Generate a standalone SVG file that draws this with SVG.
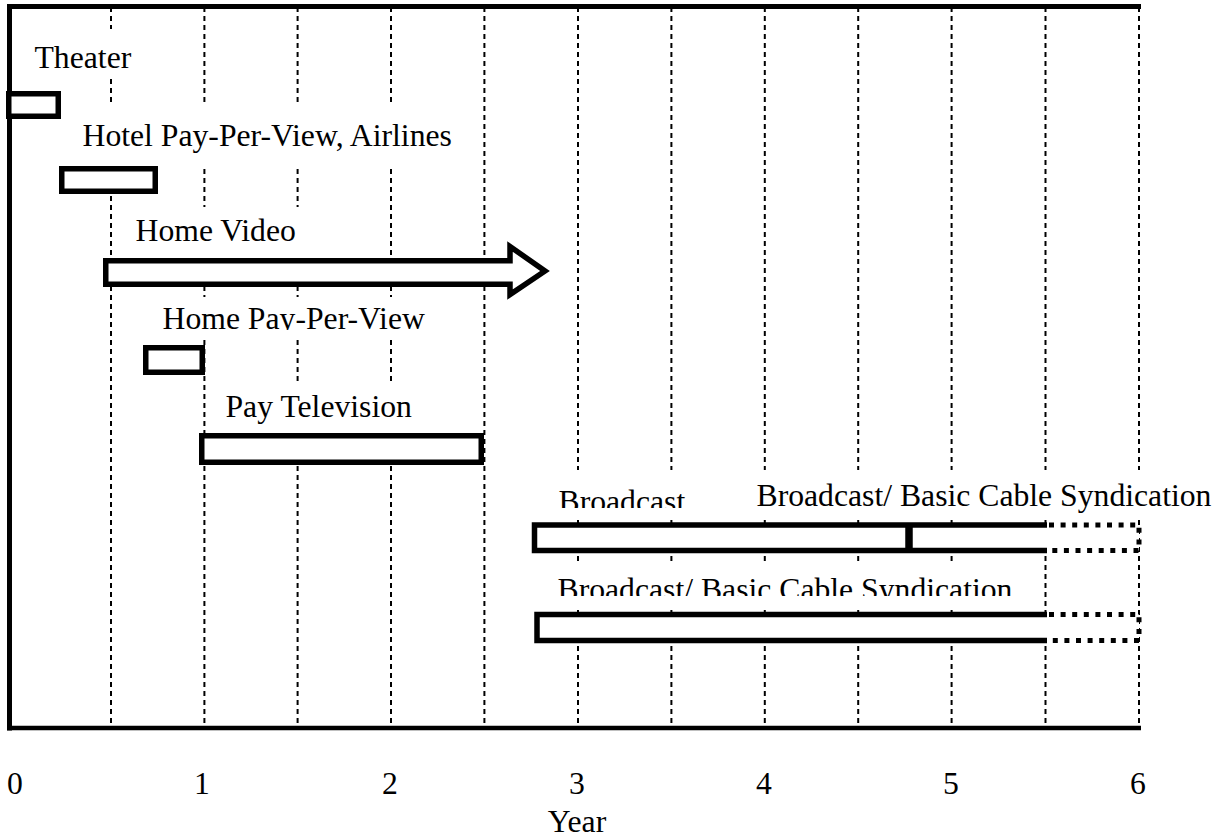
<svg xmlns="http://www.w3.org/2000/svg" width="1219" height="838" viewBox="0 0 1219 838">
<style>
.t{font-family:"Liberation Serif","Times New Roman",serif;font-size:31.7px;fill:#000}
.bar{fill:#fff;stroke:#000;stroke-width:5.5;stroke-linejoin:miter}
.bg{fill:#fff;stroke:none}
.grid line{stroke:#000;stroke-width:2;stroke-dasharray:5 4}
.dot{fill:none;stroke:#000;stroke-width:5;stroke-dasharray:5 6.6}
.solid{fill:none;stroke:#000;stroke-width:5.5}
</style>
<defs>
<clipPath id="cPPV"><rect x="150" y="290" width="300" height="40"/></clipPath>
<clipPath id="cB1"><rect x="545" y="470" width="160" height="38"/></clipPath>
<clipPath id="cB3"><rect x="545" y="560" width="480" height="36"/></clipPath>
</defs>
<rect width="1219" height="838" fill="#fff"/>
<g id="grid" class="grid">
<line x1="111" y1="7" x2="111" y2="728"/>
<line x1="204.4" y1="7" x2="204.4" y2="728"/>
<line x1="297.6" y1="7" x2="297.6" y2="728"/>
<line x1="391" y1="7" x2="391" y2="728"/>
<line x1="484.4" y1="7" x2="484.4" y2="728"/>
<line x1="578" y1="7" x2="578" y2="728"/>
<line x1="671.4" y1="7" x2="671.4" y2="728"/>
<line x1="764.8" y1="7" x2="764.8" y2="728"/>
<line x1="858.2" y1="7" x2="858.2" y2="728"/>
<line x1="951.6" y1="7" x2="951.6" y2="728"/>
<line x1="1045.5" y1="7" x2="1045.5" y2="728"/>
<line x1="1139" y1="7" x2="1139" y2="728"/>
</g>
<g id="frame">
<line x1="7" y1="6.5" x2="1141" y2="6.5" stroke="#000" stroke-width="5"/>
<line x1="9.5" y1="4" x2="9.5" y2="730.5" stroke="#000" stroke-width="5"/>
<line x1="7" y1="728" x2="1141" y2="728" stroke="#000" stroke-width="4.5"/>
</g>
<g id="theater">
<rect class="bg" x="28" y="29" width="104" height="49"/>
<text class="t" x="34.5" y="68.3">Theater</text>
<rect class="bar" x="8.75" y="93.75" width="49.5" height="22.5"/>
</g>
<g id="hotel">
<rect class="bg" x="78" y="103" width="380" height="65"/>
<text class="t" x="82.5" y="146">Hotel Pay-Per-View, Airlines</text>
<rect class="bar" x="61.75" y="168.75" width="93.5" height="22.5"/>
</g>
<g id="homevideo">
<rect class="bg" x="128" y="207" width="180" height="50"/>
<text class="t" x="135.5" y="241">Home Video</text>
<polygon class="bar" points="105.75,260.75 510,260.75 510,246.5 545,271 510,294.5 510,284.25 105.75,284.25"/>
</g>
<g id="homeppv">
<rect class="bg" x="155" y="297" width="270" height="43"/>
<text class="t" x="162.5" y="329.3" clip-path="url(#cPPV)">Home Pay-Per-View</text>
<rect class="bar" x="145.75" y="347.75" width="56.5" height="24.5"/>
</g>
<g id="paytv">
<rect class="bg" x="215" y="382" width="200" height="51"/>
<text class="t" x="225.5" y="417">Pay Television</text>
<rect class="bar" x="201.75" y="435.75" width="279.5" height="26.5"/>
</g>
<g id="broadcast">
<rect class="bg" x="550" y="470" width="140" height="48"/>
<text class="t" x="558.5" y="511.5" clip-path="url(#cB1)">Broadcast</text>
<rect class="bg" x="748" y="470" width="468" height="48"/>
<text class="t" x="756.5" y="506">Broadcast/ Basic Cable Syndication</text>
<rect class="bg" x="534.5" y="525" width="604.5" height="25.5"/>
<polyline class="solid" points="1047,525 534.5,525 534.5,550.5 1047,550.5"/>
<line x1="909" y1="525" x2="909" y2="550.5" stroke="#000" stroke-width="7.5"/>
<polyline class="dot" points="1049,525 1139,525 1139,550.5 1049,550.5"/>
</g>
<g id="syndication">
<rect class="bg" x="550" y="565" width="460" height="43"/>
<text class="t" x="557.5" y="599.5" clip-path="url(#cB3)">Broadcast/ Basic Cable Syndication</text>
<rect class="bg" x="537" y="614.5" width="602" height="26"/>
<polyline class="solid" points="1047,614.5 537,614.5 537,640.5 1047,640.5"/>
<polyline class="dot" points="1049,614.5 1139,614.5 1139,640.5 1049,640.5"/>
</g>
<g id="axis" class="t" text-anchor="middle">
<text x="15" y="794">0</text>
<text x="202" y="794">1</text>
<text x="390" y="794">2</text>
<text x="577" y="794">3</text>
<text x="764" y="794">4</text>
<text x="951" y="794">5</text>
<text x="1138" y="794">6</text>
<text x="577" y="832">Year</text>
</g>
</svg>
